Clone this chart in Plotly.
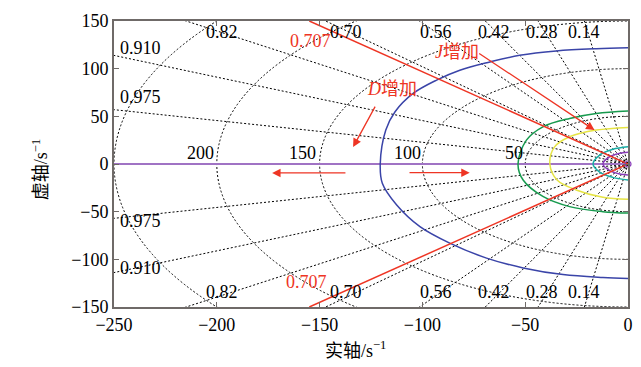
import plotly.graph_objects as go
import numpy as np

# ---- data ----
zeta_values = [0.14, 0.28, 0.42, 0.56, 0.70, 0.82, 0.91, 0.975]
zeta_labels = ["0.14", "0.28", "0.42", "0.56", "0.70", "0.82", "0.910", "0.975"]
wn_values = [50, 100, 150, 200, 250]
wn_labels = ["50", "100", "150", "200"]

x_ticks = [-250, -200, -150, -100, -50, 0]
y_ticks = [-150, -100, -50, 0, 50, 100, 150]

realaxis_x = [-250, 0]
realaxis_y = [0, 0]

blue_x = [0, -15.4, -34.9, -52.7, -67.2, -81.8, -93.1, -104.5, -113.3, -117.8, -120.5,
          -119.5, -112.5, -101.2, -86.7, -68.8, -51, -31.6, -12.2, 0]
blue_y = [122, 121, 118.6, 114, 107, 98.4, 88, 74, 54.8, 35.6, 0,
          -20.2, -43, -65.7, -83, -98.7, -109, -116, -119, -120]

green_x = [0, -15.4, -28.4, -41.4, -49.4, -53.5, -51, -41.4, -28.4, -12.2, 0]
green_y = [55.5, 53, 47.8, 39, 25, 0, -16.8, -34, -44.7, -50, -51.5]

yellow_x = [0, -15.4, -28.4, -35.7, -38, -34.5, -25.2, -12.2, 0]
yellow_y = [38.4, 35.6, 28.6, 18, 0, -16.8, -27.2, -34.9, -37]

cyan_x = [0, -7.4, -13.8, -17, -13.8, -7.4, 0]
cyan_y = [18, 15.4, 9.4, 0, -8.5, -14, -16.8]

purple_x = [0, -4.1, -9, -12.2, -9, -4.1, 0]
purple_y = [12.2, 11.2, 7.6, 0, -6.8, -10.5, -11.5]

red_top_x = [-155, 0]
red_top_y = [150, 0]
red_bot_x = [-155, 0]
red_bot_y = [-150, 0]

# ---- styles ----
SERIF = "Liberation Serif, Times New Roman, Noto Sans CJK SC"
RED = "#ee3524"
FRAME = "#6f6a68"
DOT = "2px,2px"

fig = go.Figure()

# damping (zeta) lines of the s-plane grid
R = 500
for z in zeta_values:
    wd = np.sqrt(1 - z * z)
    for s in (1, -1):
        fig.add_trace(go.Scatter(x=[0, -R * z], y=[0, s * R * wd], mode="lines",
                                 line=dict(color="black", width=1, dash=DOT),
                                 hoverinfo="skip", showlegend=False))

# natural-frequency circles
for r in wn_values:
    fig.add_shape(type="circle", xref="x", yref="y", x0=-r, x1=r, y0=-r, y1=r,
                  line=dict(color="black", width=1, dash=DOT), layer="below")

def curve(x, y, color, width=1.5, shape="spline"):
    fig.add_trace(go.Scatter(x=x, y=y, mode="lines",
                             line=dict(color=color, width=width, shape=shape, smoothing=1.0),
                             hoverinfo="skip", showlegend=False))

curve(realaxis_x, realaxis_y, "#a073c4", 2.2, "linear")
curve(blue_x, blue_y, "#3a44a8")
curve(green_x, green_y, "#179a4e")
curve(yellow_x, yellow_y, "#e6e445")
curve(cyan_x, cyan_y, "#19ada5")
curve(purple_x, purple_y, "#8a3dba")
curve(red_top_x, red_top_y, RED, 1.5, "linear")
curve(red_bot_x, red_bot_y, RED, 1.5, "linear")
fig.add_trace(go.Scatter(x=[0], y=[0], mode="markers", cliponaxis=False,
                         marker=dict(symbol="circle-open", size=6, color="#8a3dba", line=dict(width=1.2)),
                         hoverinfo="skip", showlegend=False))

ann = []
def txt(x, y, t, color="black", size=18, xanchor="center", xref="x", yref="y", angle=0):
    ann.append(dict(x=x, y=y, xref=xref, yref=yref, text=t, showarrow=False,
                    font=dict(family=SERIF, size=size, color=color),
                    xanchor=xanchor, yanchor="middle", textangle=angle))

# zeta labels
top_pos = {"0.14": -21.6, "0.28": -41.7, "0.42": -65.4, "0.56": -93.5, "0.70": -137.4, "0.82": -197.6}
for lab in zeta_labels:
    if lab in top_pos:
        txt(top_pos[lab], 138.5, lab)
        txt(top_pos[lab], -134.5, lab)
txt(-248, 121.4, "0.910", xanchor="left")
txt(-248, 70.5, "0.975", xanchor="left")
txt(-248, -59.3, "0.975", xanchor="left")
txt(-248, -109.2, "0.910", xanchor="left")

# wn labels
wn_pos = {"50": -55.3, "100": -107.3, "150": -158.3, "200": -207.8}
for lab in wn_labels:
    txt(wn_pos[lab], 11.5, lab)

# red labels
txt(-154.6, 128.7, "0.707", color=RED)
txt(-156.5, -123.6, "0.707", color=RED)
txt(-114.8, 78.5, "<i>D</i>增加", color=RED)
txt(-83.0, 117.5, "<i>J</i>增加", color=RED)

# arrows
def arrow(x0, y0, x1, y1):
    ann.append(dict(x=x1, y=y1, ax=x0, ay=y0, xref="x", yref="y", axref="x", ayref="y",
                    text="", showarrow=True, arrowhead=2, arrowsize=1.3, arrowwidth=1.3,
                    arrowcolor=RED, standoff=0))

arrow(-122.6, 61.8, -133.7, 17.8)
arrow(-73.1, 117.0, -16.3, 35.6)
arrow(-136.7, -9.4, -173.1, -9.4)
arrow(-107.0, -9.1, -77.0, -9.1)

# axis titles
txt(0.469, -0.15, "实轴/s<sup>−1</sup>", size=18, xref="paper", yref="paper")
txt(-0.143, 0.48, "虚轴/s<sup>−1</sup>", size=18, xref="paper", yref="paper", angle=-90)

axis_common = dict(showgrid=False, zeroline=False, showline=True, linecolor=FRAME, linewidth=2,
                   mirror="ticks", ticks="inside", ticklen=5, tickcolor=FRAME, tickwidth=1,
                   automargin=False,
                   tickfont=dict(family=SERIF, size=18, color="black"))

fig.update_layout(
    width=633, height=359,
    margin=dict(l=105.5, r=12.5, t=12.5, b=60),
    paper_bgcolor="white", plot_bgcolor="white",
    xaxis=dict(range=[-250, 0], tickvals=x_ticks, **axis_common),
    yaxis=dict(range=[-150, 150], tickvals=y_ticks, **axis_common),
    annotations=ann,
    showlegend=False,
)

fig.write_html("out.html")
